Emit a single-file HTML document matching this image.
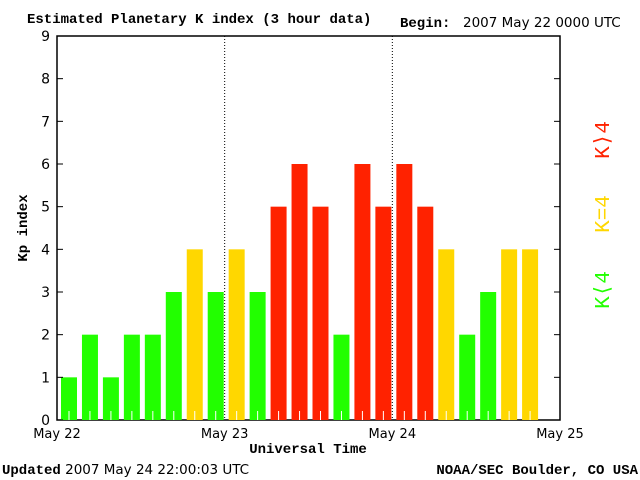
<!DOCTYPE html>
<html><head><meta charset="utf-8"><style>
body{margin:0;background:#fff;width:640px;height:480px;overflow:hidden}
svg{display:block}
.s{font-family:"DejaVu Sans","Liberation Sans",sans-serif;font-size:14px}
.b{font-family:"Liberation Mono",monospace;font-weight:bold;font-size:14px}
</style></head><body>
<svg id="c" width="640" height="480">
<text class="b" x="27" y="23">Estimated Planetary K index (3 hour data)</text>
<text class="b" x="400" y="27">Begin:</text>
<text class="s" x="463" y="27" style="font-size:13.5px">2007 May 22 0000 UTC</text>
<rect x="57" y="36" width="503" height="384" fill="none" stroke="#000" stroke-width="1.5"/>
<g id="bars"></g><g id="yt"></g><g id="xt"></g>
<text class="b" transform="translate(27,228) rotate(-90)" text-anchor="middle">Kp index</text>
<text class="b" x="308" y="453" text-anchor="middle">Universal Time</text>
<text class="b" transform="translate(609,290) rotate(-90)" text-anchor="middle" fill="#22ff00" style="font-size:21px;font-weight:normal">K⟨4</text>
<text class="b" transform="translate(609,214) rotate(-90)" text-anchor="middle" fill="#ffd700" style="font-size:21px;font-weight:normal">K=4</text>
<text class="b" transform="translate(609,140) rotate(-90)" text-anchor="middle" fill="#ff2200" style="font-size:21px;font-weight:normal">K⟩4</text>
<text x="2" y="474"><tspan class="b">Updated</tspan><tspan class="s" style="font-size:13.5px"> 2007 May 24 22:00:03 UTC</tspan></text>
<text class="b" x="638" y="474" text-anchor="end">NOAA/SEC Boulder, CO USA</text>
</svg>
<script>
const kpValues=[1,2,1,2,2,3,4,3,4,3,5,6,5,2,6,5,6,5,4,2,3,4,4];
const yTicks=[0,1,2,3,4,5,6,7,8,9];
const dayLabels=["May 22","May 23","May 24","May 25"];
const NS="http://www.w3.org/2000/svg";
const x0=57,x1=560,y0=420,y1=36,nSlots=24;
const xs=i=>x0+(x1-x0)*i/nSlots;
const ys=v=>y0-(y0-y1)*v/9;
const col=v=>v<4?"#22ff00":(v==4?"#ffd700":"#ff2200");
function mk(t,a,p){const e=document.createElementNS(NS,t);for(const k in a)e.setAttribute(k,a[k]);p.appendChild(e);return e;}
const bars=document.getElementById("bars");
kpValues.forEach((v,i)=>{
 const r=mk("rect",{x:xs(i)+4,y:ys(v),width:16,height:y0-ys(v),fill:col(v)},bars);
 
 
 mk("line",{x1:xs(i)+12,x2:xs(i)+12,y1:y0-9,y2:y0,stroke:"#fff","stroke-width":1},bars);
});
const yt=document.getElementById("yt");
yTicks.forEach(v=>{
 mk("line",{x1:x0,x2:x0+6,y1:ys(v),y2:ys(v),stroke:"#000"},yt);
 mk("line",{x1:x1-6,x2:x1,y1:ys(v),y2:ys(v),stroke:"#000"},yt);
 const t=mk("text",{x:x0-7,y:ys(v)+5,"text-anchor":"end",class:"s"},yt);
 t.textContent=v;
 
 
});
const xt=document.getElementById("xt");
dayLabels.forEach((d,i)=>{
 const x=xs(i*8);
 if(i>0&&i<3)mk("line",{x1:x,x2:x,y1:y1,y2:y0,stroke:"#000","stroke-dasharray":"1,2"},xt);
 const t=mk("text",{x:x,y:438,"text-anchor":"middle",class:"s",style:"font-size:13px"},xt);
 t.textContent=d;
 
 
});
</script>
</body></html>
